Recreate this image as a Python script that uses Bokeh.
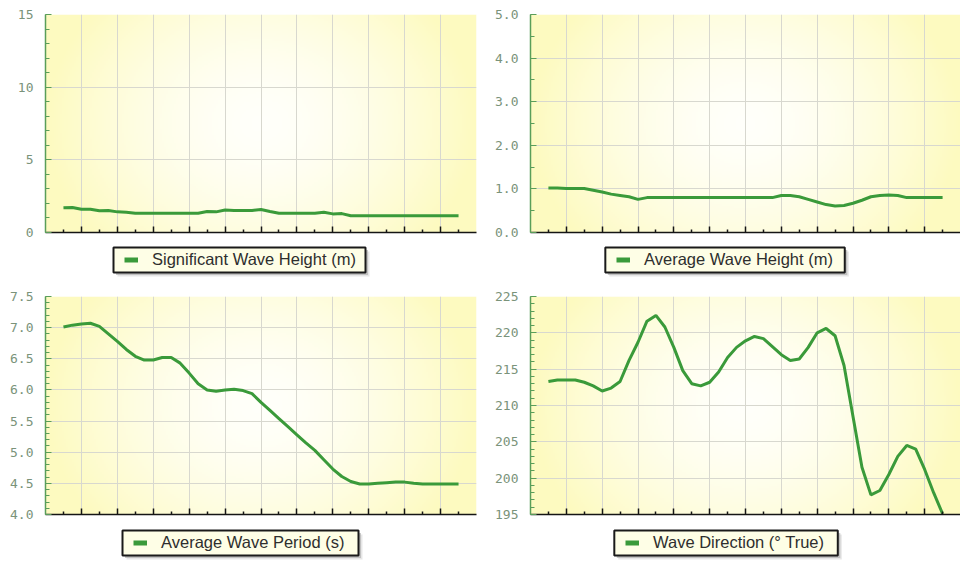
import numpy as np
from bokeh.plotting import figure
from bokeh.models import FixedTicker, Legend, LegendItem, Range1d, CustomJSTickFormatter
from bokeh.layouts import column, row
from bokeh.embed import file_html
from bokeh.resources import INLINE

# forecast steps (half-tick resolution)
steps = [i / 2 for i in range(45)]

sig_wave_height = [1.70, 1.72, 1.60, 1.60, 1.49, 1.52, 1.42, 1.40,
                   1.33, 1.33, 1.33, 1.33, 1.33, 1.33, 1.33, 1.33,
                   1.45, 1.42, 1.55, 1.52, 1.52, 1.52, 1.58, 1.45,
                   1.33, 1.33, 1.33, 1.33, 1.33, 1.40, 1.28, 1.30,
                   1.15, 1.15, 1.15, 1.15, 1.15, 1.15, 1.15, 1.15,
                   1.15, 1.15, 1.15, 1.15, 1.15]

avg_wave_height = [1.02, 1.02, 1.01, 1.01, 1.01, 0.97, 0.93, 0.88,
                   0.85, 0.82, 0.76, 0.80, 0.80, 0.80, 0.80, 0.80,
                   0.80, 0.80, 0.80, 0.80, 0.80, 0.80, 0.80, 0.80,
                   0.80, 0.80, 0.85, 0.85, 0.82, 0.76, 0.70, 0.64,
                   0.61, 0.62, 0.67, 0.74, 0.82, 0.85, 0.86, 0.85,
                   0.80, 0.80, 0.80, 0.80, 0.80]

avg_wave_period = [7.01, 7.04, 7.06, 7.07, 7.02, 6.90, 6.78, 6.65,
                   6.54, 6.48, 6.48, 6.52, 6.52, 6.43, 6.27, 6.10,
                   6.00, 5.98, 6.00, 6.01, 5.99, 5.94, 5.80, 5.67,
                   5.54, 5.41, 5.28, 5.15, 5.03, 4.88, 4.73, 4.61,
                   4.53, 4.49, 4.49, 4.50, 4.51, 4.52, 4.52, 4.50,
                   4.49, 4.49, 4.49, 4.49, 4.49]

wave_direction = [213.3, 213.5, 213.5, 213.5, 213.2, 212.7, 212.0, 212.4,
                  213.3, 216.2, 218.7, 221.6, 222.4, 220.8, 218.0, 214.8,
                  213.0, 212.7, 213.2, 214.6, 216.6, 218.0, 218.9, 219.5,
                  219.2, 218.1, 217.0, 216.2, 216.4, 218.0, 220.0, 220.6,
                  219.6, 215.5, 208.5, 201.5, 197.7, 198.3, 200.5, 203.0,
                  204.5, 204.0, 201.2, 198.0, 195.1]

legend_labels = ["Significant Wave Height (m)", "Average Wave Height (m)",
                 "Average Wave Period (s)", "Wave Direction (\u00b0 True)"]

x_major = [1, 3, 5, 7, 9, 11, 13, 15, 17, 19, 21]
x_minor = [0, 2, 4, 6, 8, 10, 12, 14, 16, 18, 20, 22]

sig_ticks = [0, 5, 10, 15]
sig_tick_labels = ["0", "5", "10", "15"]
sig_minor = list(range(0, 16))

avgh_ticks = [0, 1, 2, 3, 4, 5]
avgh_tick_labels = ["0.0", "1.0", "2.0", "3.0", "4.0", "5.0"]
avgh_minor = [k / 2 for k in range(0, 11)]

per_ticks = [4.0, 4.5, 5.0, 5.5, 6.0, 6.5, 7.0, 7.5]
per_tick_labels = ["4.0", "4.5", "5.0", "5.5", "6.0", "6.5", "7.0", "7.5"]
per_minor = [round(4 + k / 10, 1) for k in range(0, 36)]

dir_ticks = [195, 200, 205, 210, 215, 220, 225]
dir_tick_labels = ["195", "200", "205", "210", "215", "220", "225"]
dir_minor = list(range(195, 226))

LINE = "#3a9a3a"
AXIS_GREEN = "#5a9e5a"
LABEL_COLOR = "#7a937a"


def gradient(nx=216, ny=110):
    u = np.linspace(-1, 1, nx)
    v = np.linspace(-1, 1, ny)
    U, V = np.meshgrid(u, v)
    r = np.clip(np.sqrt(U ** 2 + (0.6 * V) ** 2), 0, 1)
    t = r ** 1.6
    img = np.empty((ny, nx), dtype=np.uint32)
    view = img.view(dtype=np.uint8).reshape((ny, nx, 4))
    view[..., 0] = np.round(255 - 2 * t).astype(np.uint8)
    view[..., 1] = np.round(255 - 5 * t).astype(np.uint8)
    view[..., 2] = np.round(250 - 58 * t).astype(np.uint8)
    view[..., 3] = 255
    return img


GRAD = gradient()


def panel(yvals, yticks, ylabels, yminor, width, height, b_left, b_top, b_right):
    y0, y1 = yticks[0], yticks[-1]
    p = figure(width=width, height=height,
               x_range=Range1d(-1, 23), y_range=Range1d(y0, y1),
               output_backend="svg", toolbar_location=None,
               min_border_left=b_left, min_border_right=b_right,
               min_border_top=b_top, min_border_bottom=height - b_top - 218,
               background_fill_color="white", border_fill_color="white",
               outline_line_color=None)
    p.image_rgba(image=[GRAD], x=-1, y=y0, dw=24, dh=y1 - y0, level="image")
    p.line(steps, yvals, line_color=LINE, line_width=3)

    xa = p.xaxis[0]
    xa.ticker = FixedTicker(ticks=x_major, minor_ticks=x_minor)
    xa.formatter = CustomJSTickFormatter(code="return ''")
    xa.major_label_text_font_size = "0px"
    xa.axis_line_color = "#151515"
    xa.axis_line_width = 1.5
    xa.major_tick_line_color = "#151515"
    xa.major_tick_line_width = 1.5
    xa.major_tick_in = 6
    xa.major_tick_out = 0
    xa.minor_tick_line_color = "#151515"
    xa.minor_tick_line_width = 1.5
    xa.minor_tick_in = 3
    xa.minor_tick_out = 0

    ya = p.yaxis[0]
    ya.ticker = FixedTicker(ticks=yticks, minor_ticks=yminor)
    ya.major_label_overrides = {t: s for t, s in zip(yticks, ylabels)}
    ya.axis_line_color = AXIS_GREEN
    ya.axis_line_width = 1.5
    ya.major_tick_line_color = AXIS_GREEN
    ya.major_tick_in = 6
    ya.major_tick_out = 0
    ya.minor_tick_line_color = AXIS_GREEN
    ya.minor_tick_in = 4
    ya.minor_tick_out = 0
    ya.major_label_standoff = 12
    ya.major_label_text_font = "DejaVu Sans Mono"
    ya.major_label_text_font_size = "13px"
    ya.major_label_text_color = LABEL_COLOR

    p.xgrid[0].ticker = FixedTicker(ticks=x_major)
    p.ygrid[0].ticker = FixedTicker(ticks=yticks)
    p.xgrid[0].grid_line_color = "#d8d8cf"
    p.ygrid[0].grid_line_color = "#d8d8cf"
    return p


def legend_box(label, width, height, b_left, b_right, bx0, bx1, by0, by1):
    # frame aligned with the panel above; data units are pixels from frame left
    fw = width - b_left - b_right
    f = figure(width=width, height=height, x_range=Range1d(0, fw),
               y_range=Range1d(0, height), output_backend="svg",
               toolbar_location=None, min_border_left=b_left,
               min_border_right=b_right, min_border_top=0, min_border_bottom=0,
               x_axis_type=None, y_axis_type=None, outline_line_color=None,
               background_fill_color="white", border_fill_color="white")
    f.xgrid.visible = False
    f.ygrid.visible = False
    # soft shadow
    f.quad(left=[bx0 + 4], right=[bx1 + 4], bottom=[by0 - 4], top=[by1 - 4],
           fill_color="#c8c8c8", fill_alpha=0.45, line_color=None)
    f.quad(left=[bx0 + 2.5], right=[bx1 + 2.5], bottom=[by0 - 2.5], top=[by1 - 2.5],
           fill_color="#a8a8a8", fill_alpha=0.6, line_color=None)
    f.quad(left=[bx0], right=[bx1], bottom=[by0], top=[by1],
           fill_color="#fefee6", line_color="#1a1a1a", line_width=2)
    # legend glyph source kept outside the visible range
    swatch = f.line([-50, -40], [-50, -50], line_color=LINE, line_width=5)
    legend = Legend(items=[LegendItem(label=label, renderers=[swatch])],
                    location=(bx0 + 11, by0), orientation="horizontal",
                    padding=0, spacing=0, margin=0,
                    glyph_width=14, glyph_height=by1 - by0, label_height=by1 - by0,
                    label_standoff=14,
                    label_text_font="Liberation Sans",
                    label_text_font_size="16.5px",
                    label_text_color="#2e2e2e",
                    border_line_color=None,
                    background_fill_alpha=0.0)
    f.add_layout(legend, "center")
    return f


p1 = panel(sig_wave_height, sig_ticks, sig_tick_labels, sig_minor, 492, 242, 45, 14, 16)
p2 = panel(avg_wave_height, avgh_ticks, avgh_tick_labels, avgh_minor, 468, 242, 37, 14, 0)
p3 = panel(avg_wave_period, per_ticks, per_tick_labels, per_minor, 492, 246, 45, 18, 16)
p4 = panel(wave_direction, dir_ticks, dir_tick_labels, dir_minor, 468, 246, 37, 18, 0)

l1 = legend_box(legend_labels[0], 492, 36, 45, 16, 68, 320, 6, 31)
l2 = legend_box(legend_labels[1], 468, 36, 37, 0, 75, 315, 6, 31)
l3 = legend_box(legend_labels[2], 492, 39, 45, 16, 77, 313, 8, 33)
l4 = legend_box(legend_labels[3], 468, 39, 37, 0, 84, 308, 8, 33)

layout = column(row(column(p1, l1), column(p2, l2)),
                row(column(p3, l3), column(p4, l4)))

open("out.html", "w").write(file_html(layout, INLINE))
